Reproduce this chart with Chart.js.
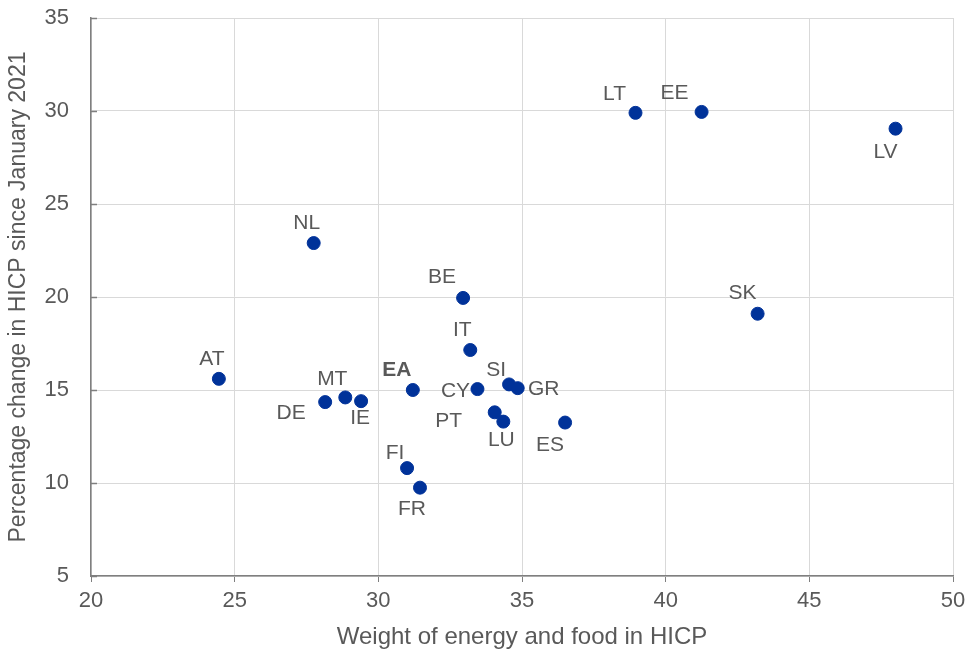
<!DOCTYPE html>
<html>
<head>
<meta charset="utf-8">
<script src="https://cdn.jsdelivr.net/npm/chart.js@4/dist/chart.umd.min.js"></script>
<style>
  html, body { margin: 0; padding: 0; background: #fff; }
  #wrap { width: 969px; height: 652px; }
</style>
</head>
<body>
<div id="wrap"><canvas id="chart" width="969" height="652"></canvas></div>
<script>
// data
const countries = ['AT','NL','DE','MT','IE','EA','FI','FR','BE','IT','CY','SI','GR','PT','LU','ES','LT','EE','LV','SK'];
const weights   = [24.45, 27.75, 28.15, 28.85, 29.4, 31.2, 31.0, 31.45, 32.95, 33.2, 33.45, 34.55, 34.85, 34.05, 34.35, 36.5, 38.95, 41.25, 48.0, 43.2];
const changes   = [15.6, 22.9, 14.35, 14.6, 14.4, 15.0, 10.8, 9.75, 19.95, 17.15, 15.05, 15.3, 15.1, 13.8, 13.3, 13.25, 29.9, 29.95, 29.05, 19.1];
const xTicks = [20, 25, 30, 35, 40, 45, 50];
const yTicks = [5, 10, 15, 20, 25, 30, 35];

// where each label sits relative to its dot (px)
const labelOffsets = {
  AT: [-7, -20], NL: [-7, -20], DE: [-34, 11], MT: [-13, -18], IE: [-1, 17],
  EA: [-16, -20], FI: [-12, -15], FR: [-8, 22], BE: [-21, -21], IT: [-8, -20],
  CY: [-22, 2], SI: [-13, -14], GR: [26, 1], PT: [-46, 9], LU: [-2, 19],
  ES: [-15, 23], LT: [-21, -19], EE: [-27, -19], LV: [-10, 24], SK: [-15, -21]
};

const points = countries.map((c, i) => ({ x: weights[i], y: changes[i] }));
const textColor = '#595959';
const font = 'Arial, "Liberation Sans", sans-serif';

const pointLabels = {
  id: 'pointLabels',
  afterDatasetsDraw(chart) {
    const ctx = chart.ctx;
    const meta = chart.getDatasetMeta(0);
    ctx.save();
    ctx.textAlign = 'center';
    ctx.textBaseline = 'middle';
    meta.data.forEach((el, i) => {
      const c = countries[i];
      const off = labelOffsets[c] || [0, -18];
      ctx.font = (c === 'EA' ? 'bold ' : '') + '21px ' + font;
      ctx.fillStyle = textColor;
      ctx.fillText(c, el.x + off[0], el.y + off[1]);
    });
    ctx.restore();
  }
};

// small inward tick marks on the y axis
const yInnerTicks = {
  id: 'yInnerTicks',
  afterDraw(chart) {
    const ctx = chart.ctx;
    const y = chart.scales.y;
    const left = chart.chartArea.left;
    ctx.save();
    ctx.strokeStyle = '#7f7f7f';
    ctx.lineWidth = 1.5;
    yTicks.forEach(v => {
      const py = Math.round(y.getPixelForValue(v)) + 0.5;
      ctx.beginPath();
      ctx.moveTo(left, py);
      ctx.lineTo(left + 6, py);
      ctx.stroke();
    });
    ctx.restore();
  }
};

new Chart(document.getElementById('chart'), {
  type: 'scatter',
  data: {
    datasets: [{
      data: points,
      backgroundColor: '#003299',
      borderColor: '#003299',
      pointRadius: 6.5,
      pointHoverRadius: 6.5
    }]
  },
  options: {
    responsive: false,
    animation: false,
    layout: { padding: { top: 18, right: 16, left: 0, bottom: 0 } },
    plugins: { legend: { display: false }, tooltip: { enabled: false } },
    scales: {
      x: {
        type: 'linear',
        min: 20, max: 50,
        afterBuildTicks: s => { s.ticks = xTicks.map(v => ({ value: v })); },
        afterFit: s => { s.height = 76; s.paddingLeft = 0; s.paddingRight = 0; },
        grid: { color: '#d9d9d9', lineWidth: 1, drawTicks: true, tickLength: 6, tickColor: '#7f7f7f' },
        border: { color: '#7f7f7f', width: 1.5 },
        ticks: { color: textColor, font: { size: 22, family: font }, padding: 6, maxRotation: 0 },
        title: { display: true, text: 'Weight of energy and food in HICP', color: textColor, font: { size: 24, family: font }, padding: { top: 0, bottom: 0 } }
      },
      y: {
        type: 'linear',
        min: 5, max: 35,
        afterBuildTicks: s => { s.ticks = yTicks.map(v => ({ value: v })); },
        afterFit: s => { s.width = 91; s.paddingTop = 0; s.paddingBottom = 0; },
        grid: { color: '#d9d9d9', lineWidth: 1, drawTicks: false },
        border: { color: '#7f7f7f', width: 1.5 },
        ticks: { color: textColor, font: { size: 22, family: font }, padding: 22 },
        title: { display: true, text: 'Percentage change in HICP since January 2021', color: textColor, font: { size: 23, family: font }, padding: { top: 5, bottom: 0 } }
      }
    }
  },
  plugins: [pointLabels, yInnerTicks]
});
</script>
</body>
</html>
